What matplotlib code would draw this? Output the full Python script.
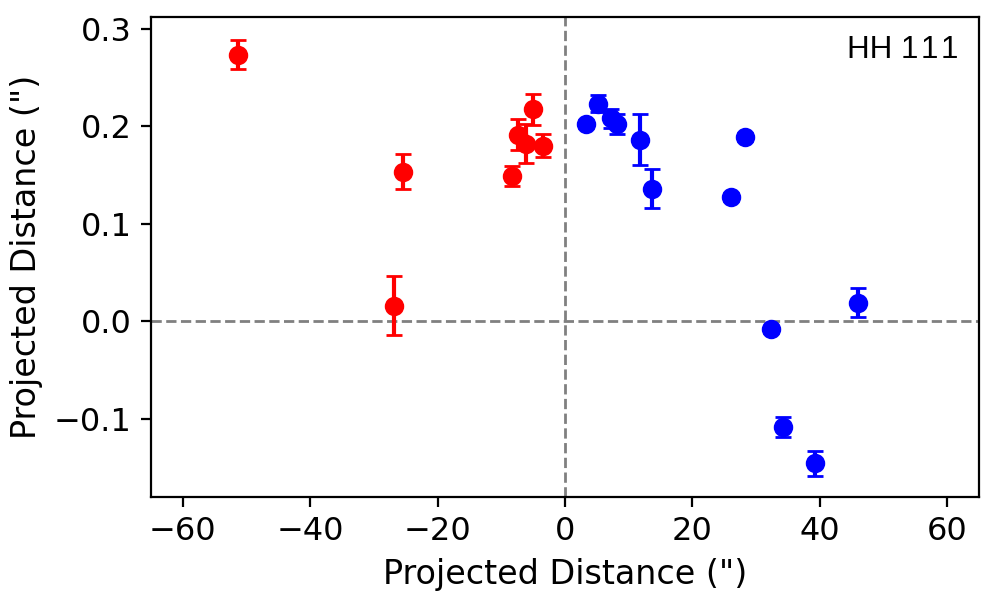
import matplotlib
matplotlib.use('Agg')
import matplotlib.pyplot as plt

# red (approaching) knots
red_x = [-51.3, -25.4, -26.9, -8.3, -7.4, -6.2, -5.0, -3.5]
red_y = [0.273, 0.153, 0.016, 0.149, 0.191, 0.182, 0.217, 0.180]
red_err = [0.015, 0.018, 0.030, 0.010, 0.016, 0.020, 0.016, 0.012]

# blue knots
blue_x = [3.3, 5.2, 7.3, 8.2, 11.8, 13.7, 28.2, 26.1, 32.4, 46.0, 34.2, 39.2]
blue_y = [0.202, 0.223, 0.208, 0.202, 0.186, 0.136, 0.189, 0.127,
          -0.0085, 0.019, -0.1085, -0.1457]
blue_err = [0.004, 0.009, 0.010, 0.010, 0.026, 0.020, 0.004, 0.004,
            0.004, 0.0146, 0.010, 0.013]

LABEL_FONT_SIZE = 12
TICK_FONT_SIZE = 11.5

fig = plt.figure(figsize=(5, 3), dpi=200)
ax = fig.add_axes([0.151, 0.172, 0.828, 0.8])

ax.axhline(0, color='gray', ls='--', lw=1)
ax.axvline(0, color='gray', ls='--', lw=1)

ax.errorbar(red_x, red_y, yerr=red_err, fmt='o', color='red', capsize=3)
ax.errorbar(blue_x, blue_y, yerr=blue_err, fmt='o', color='blue', capsize=3)

ax.set_xlim(-65, 65)
ax.set_ylim(-0.18, 0.312)
ax.set_xticks([-60, -40, -20, 0, 20, 40, 60])
ax.set_yticks([-0.1, 0.0, 0.1, 0.2, 0.3])
ax.tick_params(labelsize=TICK_FONT_SIZE)

ax.set_xlabel('Projected Distance (")', fontsize=LABEL_FONT_SIZE)
ax.set_ylabel('Projected Distance (")', fontsize=LABEL_FONT_SIZE)

# hair spaces keep the 1s from being kerned together
ax.text(0.975, 0.962, 'HH 1\u200a1\u200a1', transform=ax.transAxes,
        ha='right', va='top', family=['Liberation Sans', 'DejaVu Sans'],
        fontsize=11.3)

fig.savefig('out.png', dpi=200)
plt.close()
